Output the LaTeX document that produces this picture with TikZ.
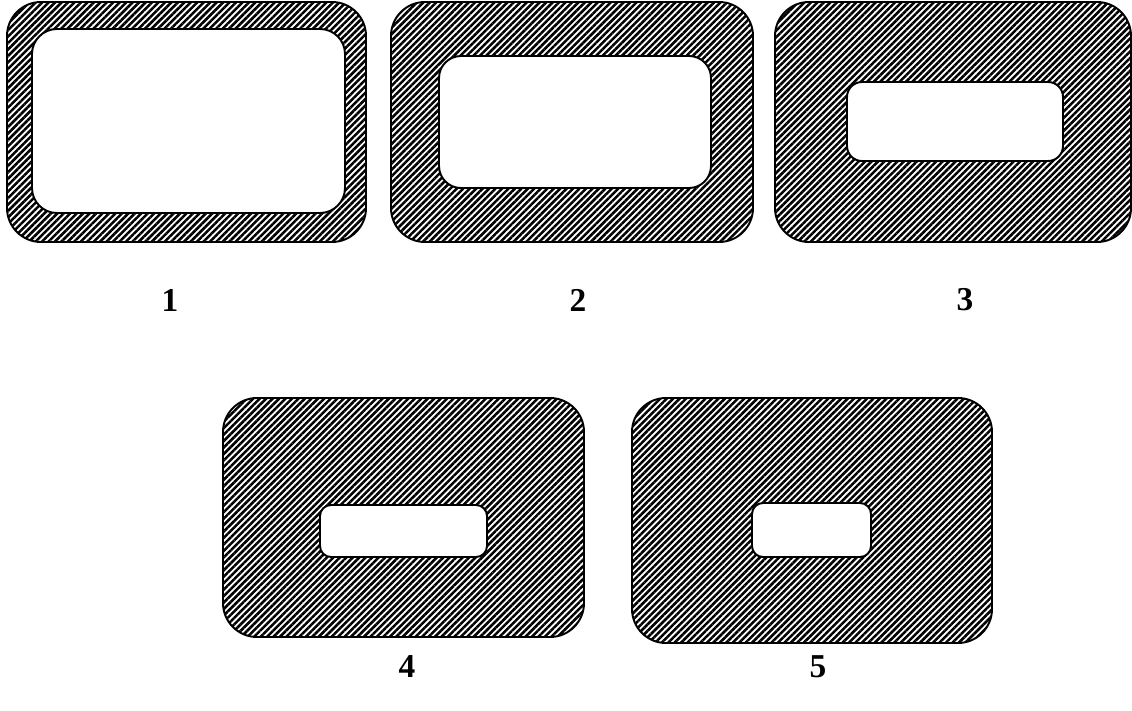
\documentclass[tikz,border=0pt]{standalone}
\usepackage{fontspec}
\setmainfont{Liberation Serif}
\usetikzlibrary{patterns.meta}

\begin{document}
\begin{tikzpicture}[x=0.02cm, y=-0.02cm]

  % Styles
  \tikzset{
    hatched/.style={draw=black, line width=1.1pt, even odd rule,
      pattern={Lines[angle=45, distance=2.6pt, line width=1.45pt]}},
    number/.style={font=\fontsize{19}{21}\selectfont\bfseries}
  }

  \useasboundingbox (0,0) rectangle (1132,710);

  % --- BOX 1: thin rim ---
  \path[hatched] [rounded corners=0.68cm] (7,2) rectangle (366,242)
    [rounded corners=0.5cm] (32,29) rectangle (345,213);
  \node[number] (lab1) at (170,300) {1};

  % --- BOX 2 ---
  \path[hatched] [rounded corners=0.68cm] (391,2) rectangle (753,242)
    [rounded corners=0.44cm] (439,56) rectangle (711,188);
  \node[number] (lab2) at (578,300) {2};

  % --- BOX 3 ---
  \path[hatched] [rounded corners=0.68cm] (775,2) rectangle (1131,242)
    [rounded corners=0.3cm] (847,82) rectangle (1063,161);
  \node[number] (lab3) at (965,300) {3};

  % --- BOX 4 ---
  \path[hatched] [rounded corners=0.68cm] (223,398) rectangle (584,637)
    [rounded corners=0.22cm] (320,505) rectangle (487,557);
  \node[number] (lab4) at (407,667) {4};

  % --- BOX 5: smallest hole ---
  \path[hatched] [rounded corners=0.68cm] (632,398) rectangle (992,643)
    [rounded corners=0.22cm] (752,503) rectangle (871,557);
  \node[number] (lab5) at (818,667) {5};

\end{tikzpicture}
\end{document}
